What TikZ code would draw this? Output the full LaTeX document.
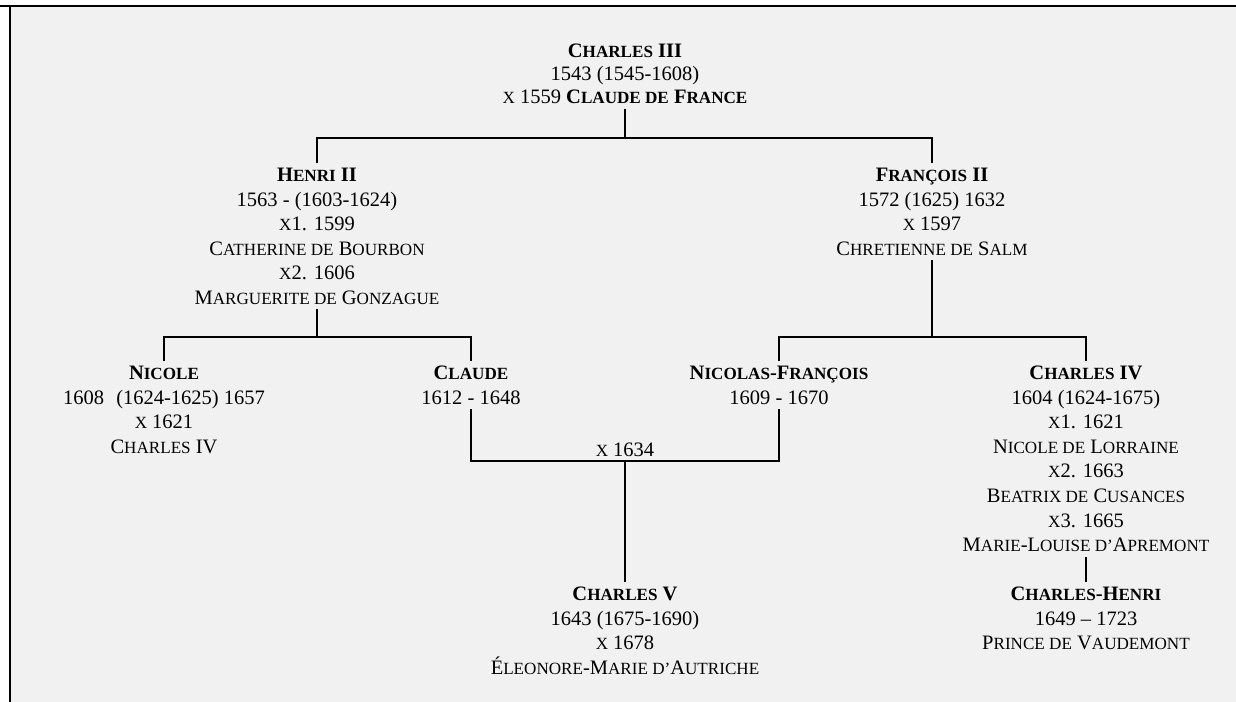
\documentclass[tikz,border=0pt]{standalone}
\usepackage{fontspec}
\setmainfont{Liberation Serif}
\definecolor{bg}{HTML}{F1F1F1}
\newcommand\smc[1]{{\fontsize{17.1bp}{24.6bp}\selectfont #1}}
\begin{document}
\begin{tikzpicture}[x=1bp,y=-1bp,
  person/.style={align=center, inner sep=0pt, outer sep=0pt, anchor=north,
    font=\fontsize{20.5bp}{24.6bp}\selectfont,
    execute at begin node={\rule{0pt}{16bp}},
    execute at end node={\rule[-5bp]{0pt}{5bp}}},
  tight/.style={font=\fontsize{20.5bp}{23bp}\selectfont},
  lbl/.style={inner sep=0pt, anchor=base, font=\fontsize{20.5bp}{24.6bp}\selectfont},
  conn/.style={line width=2bp},
  frame/.style={line width=2.5bp}
]
\useasboundingbox (0,0) rectangle (1236,702);
\fill[white] (0,0) rectangle (1236,702);
\fill[bg] (10,6) rectangle (1236,702);
\draw[frame] (0,6) -- (1236,6);
\draw[frame] (10,6) -- (10,702);

\node[person, tight] (c3) at (625,44) {\textbf{C\smc{HARLES} III}\\1543 (1545-1608)\\\smc{X} 1559 \textbf{C\smc{LAUDE DE} F\smc{RANCE}}};
\node[person] (h2) at (317,168) {\textbf{H\smc{ENRI} II}\\1563 - (1603-1624)\\\smc{X}1. 1599\\C\smc{ATHERINE DE} B\smc{OURBON}\\\smc{X}2. 1606\\M\smc{ARGUERITE DE} G\smc{ONZAGUE}};
\node[person] (f2) at (932,168) {\textbf{F\smc{RANÇOIS} II}\\1572 (1625) 1632\\\smc{X} 1597\\C\smc{HRETIENNE DE} S\smc{ALM}};
\node[person] (nicole) at (164,366) {\textbf{N\smc{ICOLE}}\\1608\hspace{7bp} (1624-1625) 1657\\\smc{X} 1621\\C\smc{HARLES} IV};
\node[person] (claude) at (471,366) {\textbf{C\smc{LAUDE}}\\1612 - 1648};
\node[person] (nf) at (779,366) {\textbf{N\smc{ICOLAS}-F\smc{RANÇOIS}}\\1609 - 1670};
\node[person] (c4) at (1086,366) {\textbf{C\smc{HARLES} IV}\\1604 (1624-1675)\\\smc{X}1. 1621\\N\smc{ICOLE DE} L\smc{ORRAINE}\\\smc{X}2. 1663\\B\smc{EATRIX DE} C\smc{USANCES}\\\smc{X}3. 1665\\M\smc{ARIE}-L\smc{OUISE D’}A\smc{PREMONT}};
\node[person] (ch) at (1086,587) {\textbf{C\smc{HARLES}-H\smc{ENRI}}\\1649 – 1723\\P\smc{RINCE DE} V\smc{AUDEMONT}};
\node[person] (c5) at (625,587) {\textbf{C\smc{HARLES} V}\\1643 (1675-1690)\\\smc{X} 1678\\É\smc{LEONORE}-M\smc{ARIE D’}A\smc{UTRICHE}};
\node[lbl] (m) at (625,456) {\smc{X} 1634};

\coordinate (j1) at (625,138);
\coordinate (j2) at (317,337);
\coordinate (j3) at (932,337);
\coordinate (j4) at (625,461);

\draw[conn] (c3.south) -- (j1);
\draw[conn] ([yshift=5bp]h2.north) |- (j1) -| ([yshift=5bp]f2.north);
\draw[conn] (h2.south) -- (j2);
\draw[conn] ([yshift=5bp]nicole.north) |- (j2) -| ([yshift=5bp]claude.north);
\draw[conn] (f2.south) -- (j3);
\draw[conn] ([yshift=5bp]nf.north) |- (j3) -| ([yshift=5bp]c4.north);
\draw[conn] (claude.south) |- (j4) -| (nf.south);
\draw[conn] (j4) -- ([yshift=5bp]c5.north);
\draw[conn] (c4.south) -- ([yshift=5bp]ch.north);
\end{tikzpicture}
\end{document}
